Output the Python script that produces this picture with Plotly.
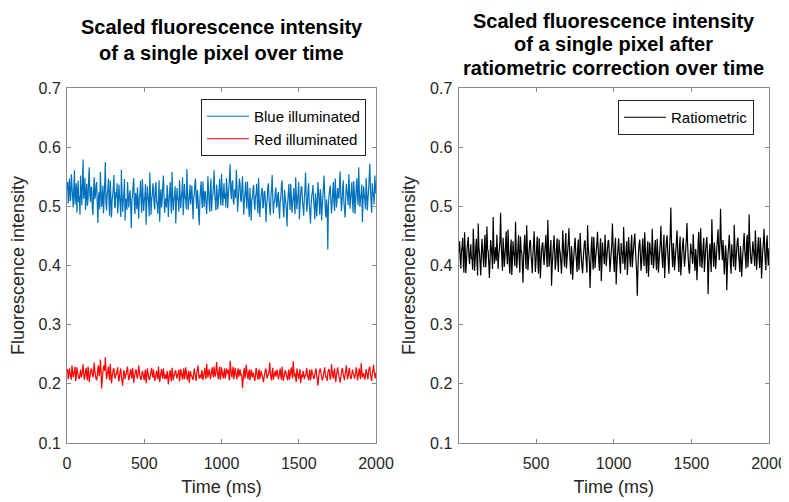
import plotly.graph_objects as go

time_ms = list(range(0, 2001, 4))

blue_illuminated = [
    0.528, 0.541, 0.505, 0.532, 0.547, 0.509, 0.512, 0.554, 0.536, 0.518, 0.498, 0.527, 0.561, 0.503, 0.521, 0.539, 0.489, 0.524, 0.543, 0.507,
    0.517, 0.486, 0.552, 0.529, 0.502, 0.538, 0.579, 0.513, 0.526, 0.548, 0.494, 0.522, 0.538, 0.501, 0.511, 0.545, 0.566, 0.519, 0.507, 0.533,
    0.531, 0.497, 0.485, 0.526, 0.549, 0.512, 0.519, 0.537, 0.541, 0.504, 0.472, 0.516, 0.524, 0.495, 0.558, 0.528, 0.499, 0.511, 0.535, 0.488,
    0.512, 0.538, 0.575, 0.506, 0.493, 0.521, 0.528, 0.547, 0.506, 0.484, 0.544, 0.515, 0.481, 0.509, 0.519, 0.532, 0.553, 0.501, 0.497, 0.524,
    0.515, 0.539, 0.488, 0.506, 0.537, 0.518, 0.503, 0.482, 0.562, 0.525, 0.491, 0.508, 0.522, 0.546, 0.476, 0.513, 0.509, 0.494, 0.541, 0.517,
    0.498, 0.519, 0.527, 0.504, 0.463, 0.511, 0.518, 0.536, 0.548, 0.502, 0.487, 0.523, 0.513, 0.495, 0.532, 0.507, 0.479, 0.514, 0.521, 0.543,
    0.505, 0.489, 0.546, 0.521, 0.492, 0.509, 0.516, 0.538, 0.469, 0.502, 0.534, 0.517, 0.508, 0.483, 0.557, 0.524, 0.486, 0.511, 0.519, 0.539,
    0.527, 0.501, 0.495, 0.532, 0.541, 0.509, 0.503, 0.487, 0.518, 0.544, 0.474, 0.512, 0.529, 0.498, 0.511, 0.536, 0.552, 0.515, 0.489, 0.506,
    0.514, 0.498, 0.536, 0.519, 0.482, 0.507, 0.523, 0.541, 0.507, 0.488, 0.558, 0.521, 0.493, 0.512, 0.517, 0.534, 0.471, 0.505, 0.531, 0.514,
    0.509, 0.491, 0.544, 0.522, 0.497, 0.513, 0.526, 0.549, 0.485, 0.508, 0.538, 0.516, 0.512, 0.495, 0.563, 0.527, 0.494, 0.506, 0.518, 0.537,
    0.503, 0.519, 0.535, 0.508, 0.478, 0.514, 0.521, 0.539, 0.547, 0.511, 0.496, 0.528, 0.516, 0.487, 0.468, 0.509, 0.529, 0.542, 0.511, 0.497,
    0.542, 0.518, 0.499, 0.526, 0.524, 0.505, 0.487, 0.513, 0.551, 0.529, 0.506, 0.491, 0.531, 0.547, 0.492, 0.515, 0.519, 0.536, 0.561, 0.522,
    0.508, 0.493, 0.537, 0.524, 0.495, 0.511, 0.528, 0.546, 0.514, 0.502, 0.555, 0.529, 0.501, 0.517, 0.539, 0.513, 0.522, 0.498, 0.548, 0.531,
    0.497, 0.518, 0.533, 0.549, 0.571, 0.526, 0.512, 0.538, 0.544, 0.509, 0.503, 0.527, 0.529, 0.514, 0.562, 0.535, 0.491, 0.508, 0.526, 0.547,
    0.538, 0.512, 0.507, 0.531, 0.551, 0.518, 0.486, 0.509, 0.523, 0.541, 0.515, 0.496, 0.542, 0.519, 0.498, 0.482, 0.531, 0.508, 0.476, 0.512,
    0.513, 0.529, 0.536, 0.504, 0.494, 0.517, 0.521, 0.538, 0.505, 0.488, 0.548, 0.514, 0.482, 0.503, 0.517, 0.526, 0.531, 0.497, 0.499, 0.524,
    0.526, 0.508, 0.473, 0.502, 0.512, 0.534, 0.539, 0.511, 0.496, 0.485, 0.518, 0.529, 0.553, 0.514, 0.488, 0.507, 0.509, 0.524, 0.532, 0.498,
    0.501, 0.519, 0.524, 0.497, 0.479, 0.508, 0.515, 0.537, 0.544, 0.512, 0.493, 0.481, 0.528, 0.516, 0.507, 0.492, 0.466, 0.503, 0.521, 0.538,
    0.511, 0.494, 0.538, 0.517, 0.489, 0.506, 0.516, 0.531, 0.502, 0.487, 0.549, 0.521, 0.495, 0.509, 0.523, 0.541, 0.478, 0.499, 0.519, 0.534,
    0.532, 0.508, 0.497, 0.484, 0.514, 0.529, 0.557, 0.516, 0.491, 0.503, 0.526, 0.539, 0.505, 0.488, 0.471, 0.502, 0.518, 0.524, 0.536, 0.511,
    0.499, 0.478, 0.522, 0.509, 0.483, 0.501, 0.541, 0.527, 0.508, 0.486, 0.529, 0.517, 0.476, 0.498, 0.515, 0.533, 0.552, 0.519, 0.494, 0.481,
    0.512, 0.496, 0.427, 0.501, 0.519, 0.528, 0.535, 0.509, 0.488, 0.503, 0.524, 0.541, 0.506, 0.492, 0.547, 0.523, 0.498, 0.511, 0.531, 0.519,
    0.513, 0.537, 0.559, 0.521, 0.492, 0.506, 0.527, 0.544, 0.509, 0.495, 0.481, 0.512, 0.538, 0.526, 0.518, 0.502, 0.554, 0.533, 0.496, 0.511,
    0.525, 0.541, 0.508, 0.489, 0.543, 0.522, 0.487, 0.509, 0.531, 0.548, 0.515, 0.502, 0.566, 0.529, 0.499, 0.513, 0.522, 0.537, 0.473, 0.506,
    0.534, 0.519, 0.511, 0.495, 0.548, 0.526, 0.493, 0.512, 0.527, 0.549, 0.572, 0.531, 0.506, 0.489, 0.539, 0.524, 0.518, 0.503, 0.552, 0.536,
    0.521,
]

red_illuminated = [
    0.219, 0.225, 0.208, 0.214, 0.226, 0.218, 0.213, 0.207, 0.231, 0.222, 0.211, 0.217, 0.222, 0.229, 0.205, 0.212, 0.228, 0.219, 0.216, 0.209,
    0.209, 0.217, 0.224, 0.211, 0.214, 0.222, 0.233, 0.218, 0.207, 0.213, 0.221, 0.227, 0.212, 0.206, 0.229, 0.221, 0.203, 0.211, 0.218, 0.225,
    0.225, 0.216, 0.211, 0.219, 0.236, 0.222, 0.215, 0.208, 0.206, 0.214, 0.227, 0.231, 0.213, 0.219, 0.241, 0.224, 0.192, 0.207, 0.219, 0.228,
    0.231, 0.222, 0.245, 0.226, 0.208, 0.215, 0.222, 0.229, 0.214, 0.206, 0.234, 0.219, 0.201, 0.211, 0.218, 0.225, 0.226, 0.213, 0.209, 0.217,
    0.215, 0.223, 0.228, 0.212, 0.204, 0.213, 0.221, 0.226, 0.212, 0.205, 0.197, 0.211, 0.223, 0.218, 0.208, 0.215, 0.217, 0.224, 0.229, 0.214,
    0.206, 0.213, 0.219, 0.225, 0.213, 0.209, 0.227, 0.219, 0.202, 0.211, 0.216, 0.223, 0.224, 0.213, 0.209, 0.217, 0.231, 0.222, 0.214, 0.208,
    0.207, 0.215, 0.222, 0.217, 0.211, 0.206, 0.218, 0.224, 0.201, 0.209, 0.226, 0.219, 0.213, 0.207, 0.208, 0.216, 0.221, 0.227, 0.215, 0.211,
    0.224, 0.213, 0.205, 0.211, 0.217, 0.222, 0.212, 0.208, 0.229, 0.216, 0.203, 0.212, 0.219, 0.225, 0.214, 0.209, 0.226, 0.218, 0.208, 0.213,
    0.216, 0.208, 0.222, 0.215, 0.199, 0.209, 0.218, 0.223, 0.211, 0.204, 0.227, 0.219, 0.206, 0.213, 0.215, 0.221, 0.223, 0.214, 0.209, 0.216,
    0.217, 0.224, 0.204, 0.212, 0.225, 0.219, 0.213, 0.207, 0.219, 0.226, 0.208, 0.214, 0.228, 0.221, 0.211, 0.206, 0.216, 0.222, 0.202, 0.213,
    0.221, 0.213, 0.214, 0.208, 0.207, 0.216, 0.226, 0.218, 0.212, 0.205, 0.218, 0.224, 0.231, 0.217, 0.209, 0.214, 0.215, 0.209, 0.223, 0.218,
    0.206, 0.213, 0.219, 0.227, 0.213, 0.208, 0.234, 0.222, 0.211, 0.217, 0.225, 0.218, 0.208, 0.214, 0.221, 0.228, 0.216, 0.211, 0.229, 0.219,
    0.212, 0.221, 0.237, 0.224, 0.214, 0.208, 0.222, 0.229, 0.207, 0.213, 0.228, 0.221, 0.215, 0.209, 0.219, 0.226, 0.209, 0.214, 0.226, 0.219,
    0.218, 0.224, 0.211, 0.206, 0.239, 0.227, 0.216, 0.211, 0.223, 0.229, 0.208, 0.215, 0.227, 0.219, 0.214, 0.208, 0.221, 0.226, 0.212, 0.218,
    0.225, 0.214, 0.217, 0.211, 0.193, 0.207, 0.221, 0.227, 0.209, 0.216, 0.232, 0.223, 0.213, 0.208, 0.219, 0.224, 0.206, 0.213, 0.224, 0.218,
    0.211, 0.219, 0.216, 0.209, 0.205, 0.214, 0.227, 0.221, 0.213, 0.207, 0.219, 0.225, 0.208, 0.214, 0.222, 0.217, 0.214, 0.208, 0.203, 0.212,
    0.218, 0.224, 0.226, 0.213, 0.209, 0.216, 0.215, 0.222, 0.236, 0.219, 0.211, 0.206, 0.221, 0.227, 0.207, 0.213, 0.217, 0.222, 0.212, 0.218,
    0.224, 0.215, 0.208, 0.213, 0.219, 0.226, 0.213, 0.207, 0.229, 0.218, 0.205, 0.211, 0.216, 0.223, 0.221, 0.214, 0.211, 0.206, 0.218, 0.224,
    0.207, 0.214, 0.223, 0.228, 0.215, 0.209, 0.238, 0.224, 0.212, 0.218, 0.209, 0.203, 0.226, 0.219, 0.214, 0.208, 0.219, 0.225, 0.201, 0.209,
    0.216, 0.211, 0.222, 0.217, 0.208, 0.214, 0.213, 0.221, 0.227, 0.215, 0.211, 0.206, 0.218, 0.224, 0.206, 0.212, 0.224, 0.218, 0.215, 0.209,
    0.209, 0.216, 0.221, 0.226, 0.214, 0.208, 0.197, 0.209, 0.219, 0.224, 0.226, 0.217, 0.212, 0.206, 0.208, 0.215, 0.223, 0.228, 0.216, 0.211,
    0.211, 0.205, 0.218, 0.223, 0.225, 0.216, 0.207, 0.213, 0.233, 0.222, 0.214, 0.209, 0.221, 0.226, 0.209, 0.203, 0.216, 0.221, 0.228, 0.219,
    0.213, 0.208, 0.202, 0.211, 0.219, 0.225, 0.226, 0.215, 0.211, 0.206, 0.217, 0.222, 0.231, 0.219, 0.208, 0.213, 0.222, 0.227, 0.215, 0.209,
    0.209, 0.217, 0.224, 0.218, 0.216, 0.209, 0.212, 0.219, 0.228, 0.221, 0.206, 0.212, 0.219, 0.226, 0.214, 0.208, 0.235, 0.222, 0.211, 0.216,
    0.218, 0.211, 0.207, 0.214, 0.225, 0.219, 0.213, 0.208, 0.221, 0.227, 0.229, 0.216, 0.210, 0.205, 0.217, 0.223, 0.232, 0.221, 0.214, 0.209,
    0.219,
]

ratiometric = [
    0.418, 0.431, 0.441, 0.412, 0.395, 0.424, 0.432, 0.447, 0.409, 0.388, 0.456, 0.429, 0.387, 0.405, 0.427, 0.438, 0.448, 0.416, 0.402, 0.421,
    0.436, 0.411, 0.414, 0.393, 0.462, 0.437, 0.391, 0.408, 0.429, 0.445, 0.405, 0.383, 0.471, 0.432, 0.421, 0.404, 0.383, 0.417, 0.445, 0.426,
    0.411, 0.397, 0.438, 0.452, 0.397, 0.413, 0.466, 0.428, 0.424, 0.403, 0.379, 0.409, 0.443, 0.431, 0.416, 0.394, 0.482, 0.437, 0.403, 0.418,
    0.431, 0.408, 0.452, 0.426, 0.394, 0.417, 0.427, 0.441, 0.489, 0.436, 0.412, 0.391, 0.447, 0.425, 0.398, 0.414, 0.435, 0.458, 0.419, 0.402,
    0.461, 0.427, 0.402, 0.386, 0.428, 0.444, 0.384, 0.407, 0.441, 0.423, 0.415, 0.399, 0.474, 0.431, 0.396, 0.412, 0.432, 0.451, 0.409, 0.388,
    0.449, 0.426, 0.422, 0.403, 0.371, 0.411, 0.437, 0.452, 0.413, 0.394, 0.468, 0.432, 0.392, 0.408, 0.426, 0.441, 0.443, 0.417, 0.405, 0.387,
    0.419, 0.436, 0.458, 0.421, 0.389, 0.407, 0.431, 0.449, 0.407, 0.386, 0.446, 0.427, 0.378, 0.403, 0.423, 0.437, 0.439, 0.414, 0.401, 0.422,
    0.436, 0.452, 0.414, 0.397, 0.477, 0.439, 0.398, 0.411, 0.428, 0.443, 0.366, 0.398, 0.417, 0.433, 0.451, 0.424, 0.393, 0.407, 0.429, 0.446,
    0.408, 0.389, 0.444, 0.427, 0.421, 0.404, 0.386, 0.415, 0.459, 0.436, 0.412, 0.398, 0.437, 0.455, 0.395, 0.412, 0.424, 0.441, 0.463, 0.428,
    0.401, 0.385, 0.433, 0.418, 0.376, 0.401, 0.418, 0.436, 0.447, 0.422, 0.409, 0.389, 0.428, 0.444, 0.392, 0.407, 0.455, 0.431, 0.414, 0.397,
    0.387, 0.409, 0.426, 0.441, 0.442, 0.419, 0.403, 0.388, 0.468, 0.433, 0.419, 0.404, 0.362, 0.398, 0.434, 0.449, 0.411, 0.393, 0.448, 0.427,
    0.396, 0.412, 0.425, 0.438, 0.457, 0.429, 0.408, 0.391, 0.431, 0.446, 0.374, 0.401, 0.439, 0.421, 0.416, 0.402, 0.452, 0.433, 0.399, 0.414,
    0.427, 0.441, 0.443, 0.418, 0.389, 0.406, 0.421, 0.437, 0.471, 0.435, 0.406, 0.389, 0.432, 0.447, 0.368, 0.397, 0.415, 0.429, 0.446, 0.423,
    0.402, 0.386, 0.438, 0.421, 0.419, 0.403, 0.465, 0.432, 0.393, 0.411, 0.426, 0.441, 0.384, 0.406, 0.448, 0.428, 0.412, 0.398, 0.435, 0.452,
    0.397, 0.414, 0.429, 0.443, 0.454, 0.427, 0.408, 0.389, 0.349, 0.392, 0.421, 0.437, 0.444, 0.419, 0.391, 0.405, 0.433, 0.446, 0.414, 0.399,
    0.456, 0.428, 0.403, 0.387, 0.426, 0.441, 0.381, 0.404, 0.439, 0.424, 0.418, 0.401, 0.462, 0.431, 0.395, 0.409, 0.428, 0.443, 0.409, 0.392,
    0.445, 0.422, 0.388, 0.406, 0.423, 0.438, 0.467, 0.429, 0.411, 0.396, 0.436, 0.452, 0.379, 0.403, 0.427, 0.441, 0.451, 0.423, 0.402, 0.386,
    0.431, 0.452, 0.498, 0.443, 0.414, 0.397, 0.438, 0.421, 0.392, 0.409, 0.425, 0.441, 0.459, 0.427, 0.406, 0.389, 0.434, 0.449, 0.383, 0.401,
    0.421, 0.437, 0.447, 0.419, 0.398, 0.412, 0.429, 0.446, 0.472, 0.436, 0.412, 0.394, 0.386, 0.411, 0.437, 0.423, 0.419, 0.403, 0.453, 0.428,
    0.404, 0.391, 0.428, 0.413, 0.375, 0.402, 0.441, 0.457, 0.417, 0.398, 0.463, 0.429, 0.396, 0.412, 0.432, 0.447, 0.389, 0.407, 0.426, 0.439,
    0.448, 0.416, 0.352, 0.398, 0.423, 0.437, 0.407, 0.389, 0.478, 0.441, 0.415, 0.398, 0.439, 0.425, 0.394, 0.408, 0.429, 0.444, 0.461, 0.427,
    0.409, 0.437, 0.496, 0.446, 0.427, 0.409, 0.443, 0.418, 0.385, 0.404, 0.434, 0.421, 0.358, 0.396, 0.418, 0.433, 0.452, 0.429, 0.401, 0.386,
    0.436, 0.419, 0.414, 0.398, 0.469, 0.436, 0.392, 0.411, 0.428, 0.442, 0.447, 0.419, 0.406, 0.389, 0.433, 0.415, 0.381, 0.403, 0.421, 0.438,
    0.455, 0.427, 0.412, 0.395, 0.438, 0.452, 0.397, 0.414, 0.486, 0.443, 0.424, 0.406, 0.403, 0.421, 0.441, 0.428, 0.416, 0.399, 0.459, 0.432,
    0.393, 0.411, 0.432, 0.448, 0.411, 0.396, 0.447, 0.426, 0.378, 0.404, 0.425, 0.439, 0.462, 0.431, 0.408, 0.392, 0.437, 0.451, 0.415, 0.401,
    0.429,
]

y_ticks = [0.1, 0.2, 0.3, 0.4, 0.5, 0.6, 0.7]
x_ticks_left = [0, 500, 1000, 1500, 2000]
x_ticks_right = [500, 1000, 1500, 2000]

title_left_lines = ["Scaled fluorescence intensity", "of a single pixel over time"]
title_right_lines = ["Scaled fluorescence intensity", "of a single pixel after",
                     "ratiometric correction over time"]

# ---- figure ----
W, H = 789, 502
OFF = 8  # the page body adds an 8px margin; positions below are screen pixels
FONT = "Liberation Sans, Arial, Helvetica, sans-serif"
AX = "#8a8a8a"
TXT = "#262626"
LW = 1.2

fig = go.Figure()
fig.add_trace(go.Scatter(x=time_ms, y=blue_illuminated, mode="lines", name="Blue illuminated",
                         line=dict(color="#0072BD", width=LW, simplify=False),
                         xaxis="x", yaxis="y", legend="legend"))
fig.add_trace(go.Scatter(x=time_ms, y=red_illuminated, mode="lines", name="Red illuminated",
                         line=dict(color="#FF0000", width=LW, simplify=False),
                         xaxis="x", yaxis="y", legend="legend"))
fig.add_trace(go.Scatter(x=time_ms, y=ratiometric, mode="lines", name="Ratiometric",
                         line=dict(color="#000000", width=LW, simplify=False),
                         xaxis="x2", yaxis="y2", legend="legend2"))


def px_x(p):
    return (p - OFF) / W


def px_y(p):
    return (H - (p - OFF)) / H


common_axis = dict(
    showline=True, linecolor=AX, linewidth=1, mirror="allticks",
    ticks="inside", ticklen=4, tickcolor=AX, tickwidth=1,
    showgrid=False, zeroline=False, automargin=False,
    tickfont=dict(family=FONT, size=16, color=TXT),
)
xtitle = dict(text="Time (ms)", font=dict(family=FONT, size=18, color=TXT), standoff=9)
ytitle = dict(text="Fluorescence intensity", font=dict(family=FONT, size=18, color=TXT), standoff=9)

ydom = [px_y(443), px_y(88)]
fig.update_layout(
    template="none",
    width=W, height=H,
    margin=dict(l=0, r=0, t=0, b=0, autoexpand=False),
    paper_bgcolor="white", plot_bgcolor="white",
    font=dict(family=FONT, color=TXT),
    showlegend=True,
    xaxis=dict(domain=[px_x(67), px_x(376)], range=[0, 2000], tickvals=x_ticks_left,
               anchor="y", ticklabelstandoff=6, title=xtitle, **common_axis),
    yaxis=dict(domain=ydom, range=[0.1, 0.7], tickvals=y_ticks, tickformat=".1f",
               anchor="x", ticklabelstandoff=2, title=ytitle, **common_axis),
    xaxis2=dict(domain=[px_x(458.5), px_x(769)], range=[1, 2000], tickvals=x_ticks_right,
                anchor="y2", ticklabelstandoff=6, title=xtitle, **common_axis),
    yaxis2=dict(domain=ydom, range=[0.1, 0.7], tickvals=y_ticks, tickformat=".1f",
                anchor="x2", ticklabelstandoff=2, title=ytitle, **common_axis),
    legend=dict(x=px_x(366), y=px_y(99), xanchor="right", yanchor="top",
                bgcolor="white", bordercolor=TXT, borderwidth=1,
                font=dict(family=FONT, size=15, color="#000000"), itemwidth=42,
                tracegroupgap=0, traceorder="normal"),
    legend2=dict(x=px_x(754), y=px_y(100), xanchor="right", yanchor="top",
                 bgcolor="white", bordercolor=TXT, borderwidth=1,
                 font=dict(family=FONT, size=15, color="#000000"), itemwidth=42),
)

title_font = dict(family=FONT, size=20, color="#000000", weight="bold")
for text, yc in zip(title_left_lines, [27, 53]):
    fig.add_annotation(text=text, xref="paper", yref="paper", x=px_x(221.5), y=px_y(yc),
                       xanchor="center", yanchor="middle", showarrow=False, borderpad=0,
                       font=title_font)
for text, yc in zip(title_right_lines, [21, 44, 68]):
    fig.add_annotation(text=text, xref="paper", yref="paper", x=px_x(613.75), y=px_y(yc),
                       xanchor="center", yanchor="middle", showarrow=False, borderpad=0,
                       font=title_font)

fig.write_html("out.html")
